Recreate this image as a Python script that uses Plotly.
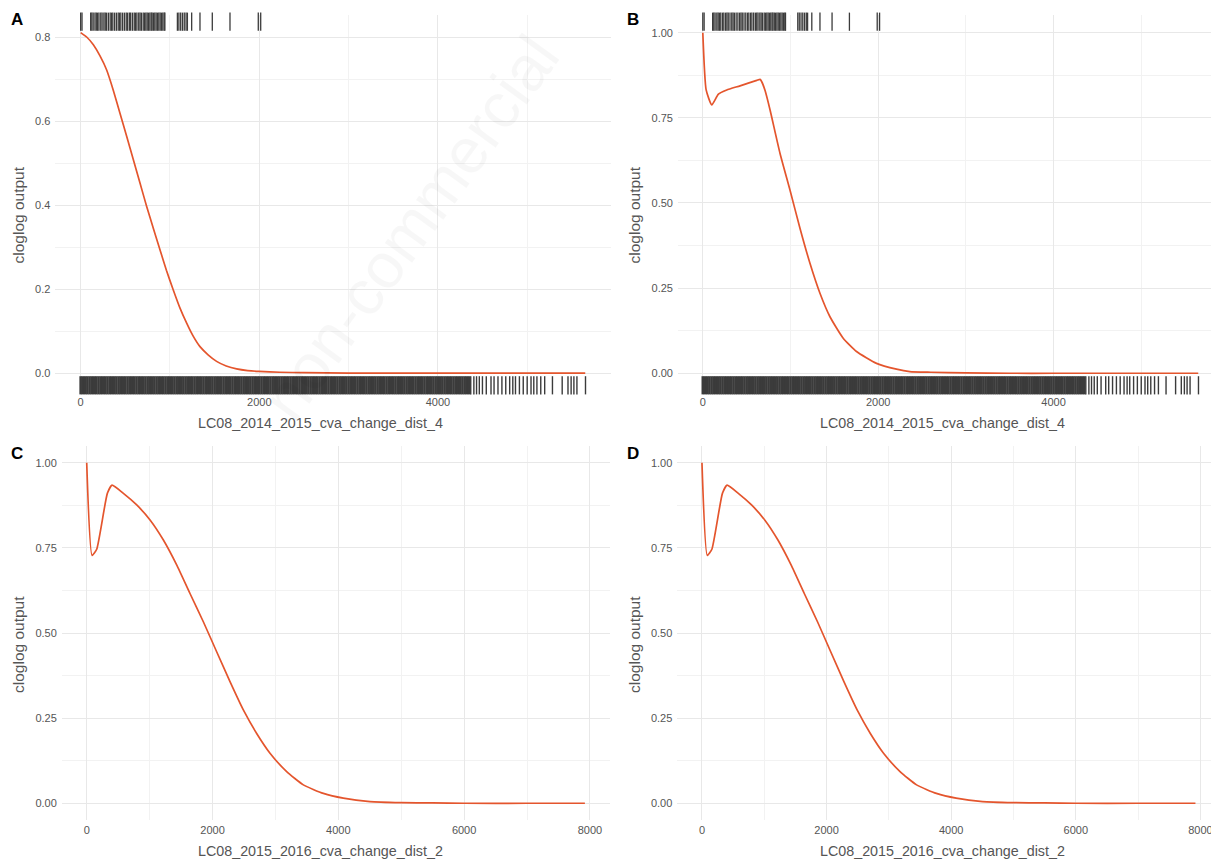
import plotly.graph_objects as go

# page body has an 8px margin; size the figure so it fits the 1219x860 window
OFF = 8
W, H = 1219 - OFF, 860 - OFF

# ---------------- data ----------------
# presence rug (top), variable LC08_2014_2015_cva_change_dist_4
presence_x = [0, 15, 112, 125, 140, 160, 175, 190, 205, 225, 240, 260, 275, 290, 310,
              330, 345, 360, 380, 400, 420, 435, 450, 470, 490, 510, 525, 545, 560,
              580, 600, 615, 630, 650, 665, 680, 700, 715, 730, 745, 760, 775, 790,
              800, 815, 830, 845, 860, 875, 890, 905, 920, 935, 943, 1083, 1100,
              1120, 1140, 1160, 1180, 1195, 1243, 1336, 1474, 1672, 1989, 2016]

# background rug (bottom): saturated block, then sparse tail
background_dense_x = [
    0, 25, 50, 75, 100, 125, 150, 175, 200, 225, 250, 275, 300, 325, 350, 375, 400, 425, 450, 475,
    500, 525, 550, 575, 600, 625, 650, 675, 700, 725, 750, 775, 800, 825, 850, 875, 900, 925, 950, 975,
    1000, 1025, 1050, 1075, 1100, 1125, 1150, 1175, 1200, 1225, 1250, 1275, 1300, 1325, 1350, 1375, 1400, 1425, 1450, 1475,
    1500, 1525, 1550, 1575, 1600, 1625, 1650, 1675, 1700, 1725, 1750, 1775, 1800, 1825, 1850, 1875, 1900, 1925, 1950, 1975,
    2000, 2025, 2050, 2075, 2100, 2125, 2150, 2175, 2200, 2225, 2250, 2275, 2300, 2325, 2350, 2375, 2400, 2425, 2450, 2475,
    2500, 2525, 2550, 2575, 2600, 2625, 2650, 2675, 2700, 2725, 2750, 2775, 2800, 2825, 2850, 2875, 2900, 2925, 2950, 2975,
    3000, 3025, 3050, 3075, 3100, 3125, 3150, 3175, 3200, 3225, 3250, 3275, 3300, 3325, 3350, 3375, 3400, 3425, 3450, 3475,
    3500, 3525, 3550, 3575, 3600, 3625, 3650, 3675, 3700, 3725, 3750, 3775, 3800, 3825, 3850, 3875, 3900, 3925, 3950, 3975,
    4000, 4025, 4050, 4075, 4100, 4125, 4150, 4175, 4200, 4225, 4250, 4275, 4300, 4325, 4350]
background_tail_x = [4368, 4403, 4433, 4464, 4499, 4542, 4595, 4629, 4673, 4717, 4760, 4804,
                     4839, 4869, 4913, 4956, 5000, 5043, 5074, 5109, 5152, 5196, 5283, 5392,
                     5457, 5492, 5523, 5557, 5653]

# response curves (cloglog output)
a_x = [0, 70, 142, 215, 291, 365, 440, 515, 590, 665, 739, 815, 888, 960, 1037, 1110, 1187,
       1260, 1336, 1430, 1522, 1630, 1746, 1870, 1996, 2231, 2500, 3000, 4000, 5000, 5650]
a_y = [0.811, 0.800, 0.782, 0.756, 0.722, 0.674, 0.619, 0.564, 0.508, 0.452, 0.397, 0.344,
       0.294, 0.245, 0.198, 0.156, 0.119, 0.088, 0.063, 0.043, 0.028, 0.017, 0.010, 0.006,
       0.004, 0.002, 0.001, 0.0, 0.0, 0.0, 0.0]

b_x = [0, 38, 102, 178, 273, 425, 615, 653, 672, 710, 767, 880, 994, 1108, 1222, 1336, 1450,
       1601, 1753, 1981, 2209, 2360, 2600, 3000, 3500, 4000, 5000, 5650]
b_y = [1.0, 0.832, 0.788, 0.820, 0.832, 0.844, 0.860, 0.863, 0.856, 0.830, 0.773, 0.646, 0.538,
       0.426, 0.323, 0.235, 0.166, 0.103, 0.064, 0.029, 0.012, 0.005, 0.003, 0.001, 0.0,
       0.0, 0.0, 0.0]

c_x = [0, 85, 159, 328, 403, 583, 795, 1007, 1219, 1430, 1642, 1854, 2066, 2278, 2490,
       2702, 2914, 3179, 3444, 3762, 4079, 4503, 5000, 5500, 6000, 7000, 7920]
c_y = [1.0, 0.728, 0.746, 0.910, 0.934, 0.910, 0.876, 0.832, 0.773, 0.700, 0.616, 0.533,
       0.445, 0.357, 0.274, 0.205, 0.147, 0.093, 0.054, 0.029, 0.015, 0.005, 0.002, 0.001,
       0.0, 0.0, 0.0]

d_x = [0, 85, 159, 328, 403, 583, 795, 1007, 1219, 1430, 1642, 1854, 2066, 2278, 2490,
       2702, 2914, 3179, 3444, 3762, 4079, 4503, 5000, 5500, 6000, 7000, 7920]
d_y = [1.0, 0.728, 0.746, 0.910, 0.934, 0.910, 0.876, 0.832, 0.773, 0.700, 0.616, 0.533,
       0.445, 0.357, 0.274, 0.205, 0.147, 0.093, 0.054, 0.029, 0.015, 0.005, 0.002, 0.001,
       0.0, 0.0, 0.0]

panel_letters = ["A", "B", "C", "D"]
x_titles = ["LC08_2014_2015_cva_change_dist_4", "LC08_2014_2015_cva_change_dist_4",
            "LC08_2015_2016_cva_change_dist_2", "LC08_2015_2016_cva_change_dist_2"]
y_title = "cloglog output"

# ---------------- layout helpers (screen px -> paper) ----------------
def fx(p):
    return (p - OFF) / W

def fy(p):
    return 1 - (p - OFF) / H

LINE_COLOR = "#E4552D"
RUG_COLOR = "#3b3b3b"
FONT = "Liberation Sans, Arial, sans-serif"

panels = [
    dict(xd=(55.4, 610.5), yd=(15, 392), xr=[-283, 5933], yr=[-0.045, 0.853], ydt=0.2, yfmt=".1f"),
    dict(xd=(678, 1219), yd=(15, 392), xr=[-283, 5887], yr=[-0.055, 1.052], ydt=0.25, yfmt=".2f"),
    dict(xd=(61.8, 609.8), yd=(445.7, 820.3), xr=[-396, 8316], yr=[-0.05, 1.05], ydt=0.25, yfmt=".2f"),
    dict(xd=(677.3, 1219), yd=(445.7, 820.3), xr=[-396, 8298], yr=[-0.05, 1.05], ydt=0.25, yfmt=".2f"),
]
curves = [(a_x, a_y), (b_x, b_y), (c_x, c_y), (d_x, d_y)]

fig = go.Figure()
layout = dict(
    width=W, height=H, margin=dict(l=0, r=0, t=0, b=0),
    paper_bgcolor="white", plot_bgcolor="white", showlegend=False,
    font=dict(family=FONT, color="#555555"),
)
annotations = []

for i, p in enumerate(panels):
    n = "" if i == 0 else str(i + 1)
    xa, ya = "x" + n, "y" + n
    layout["xaxis" + n] = dict(
        domain=[max(0, fx(p["xd"][0])), min(1, fx(p["xd"][1]))], range=p["xr"], anchor=ya,
        showline=False, zeroline=False, ticks="", showgrid=True,
        gridcolor="#e8e8e8", gridwidth=1, dtick=2000, tick0=0, tickformat="d",
        minor=dict(showgrid=True, dtick=1000, tick0=0, gridcolor="#f2f2f2", gridwidth=0.7),
        tickfont=dict(size=11, color="#555555", family=FONT), ticklabelstandoff=2,
    )
    layout["yaxis" + n] = dict(
        domain=[fy(p["yd"][1]), min(1, fy(p["yd"][0]))], range=p["yr"], anchor=xa,
        showline=False, zeroline=False, ticks="", showgrid=True,
        gridcolor="#e8e8e8", gridwidth=1, dtick=p["ydt"], tick0=0, tickformat=p["yfmt"],
        minor=dict(showgrid=True, dtick=p["ydt"] / 2, tick0=0, gridcolor="#f2f2f2", gridwidth=0.7),
        tickfont=dict(size=11, color="#555555", family=FONT), ticklabelstandoff=4,
    )
    cx, cy = curves[i]
    fig.add_trace(go.Scatter(x=cx, y=cy, mode="lines", xaxis=xa, yaxis=ya,
                             line=dict(color=LINE_COLOR, width=1.7, shape="spline", smoothing=0.5),
                             hoverinfo="skip"))

    # rugs for A and B
    if i < 2:
        ppx = (p["yd"][1] - p["yd"][0]) / (p["yr"][1] - p["yr"][0])
        top_y = p["yr"][1] - 6.7 / ppx
        bot_y = p["yr"][0] + 6.7 / ppx
        fig.add_trace(go.Scatter(x=presence_x, y=[top_y] * len(presence_x), mode="markers",
                                 xaxis=xa, yaxis=ya, cliponaxis=False, hoverinfo="skip",
                                 marker=dict(symbol="line-ns", size=13,
                                             line=dict(width=1.3, color=RUG_COLOR))))
        fig.add_trace(go.Scatter(x=background_dense_x, y=[bot_y] * len(background_dense_x),
                                 mode="markers", xaxis=xa, yaxis=ya, cliponaxis=False,
                                 hoverinfo="skip",
                                 marker=dict(symbol="line-ns", size=13,
                                             line=dict(width=2.6, color=RUG_COLOR))))
        fig.add_trace(go.Scatter(x=background_tail_x, y=[bot_y] * len(background_tail_x),
                                 mode="markers", xaxis=xa, yaxis=ya, cliponaxis=False,
                                 hoverinfo="skip",
                                 marker=dict(symbol="line-ns", size=13,
                                             line=dict(width=1.4, color=RUG_COLOR))))

    # panel letter
    col_left = 0 if i % 2 == 0 else 616
    row_top = 0 if i < 2 else 434
    annotations.append(dict(text="<b>" + panel_letters[i] + "</b>", xref="paper", yref="paper",
                            x=fx(col_left + 9), y=fy(row_top + 19), xanchor="left", yanchor="middle",
                            showarrow=False, font=dict(size=17, color="black", family=FONT)))
    # x title
    xc = 320 if i % 2 == 0 else 942
    annotations.append(dict(text=x_titles[i], xref="paper", yref="paper",
                            x=fx(xc), y=fy(p["yd"][1] + 31), xanchor="center", yanchor="middle",
                            showarrow=False, font=dict(size=14.3, color="#555555", family=FONT)))
    # y title
    annotations.append(dict(text=y_title, xref="paper", yref="paper", textangle=-90,
                            x=fx(col_left + 18), y=fy((p["yd"][0] + p["yd"][1]) / 2 + 12),
                            xanchor="center", yanchor="middle", showarrow=False,
                            font=dict(size=15.5, color="#555555", family=FONT)))

# faint publisher watermark
annotations.append(dict(text="non-commercial", xref="paper", yref="paper", textangle=-54,
                        x=fx(410), y=fy(228), xanchor="center", yanchor="middle", showarrow=False,
                        font=dict(size=64, color="rgba(0,0,0,0.03)", family=FONT)))

layout["annotations"] = annotations
fig.update_layout(**layout)
fig.write_html("out.html")
